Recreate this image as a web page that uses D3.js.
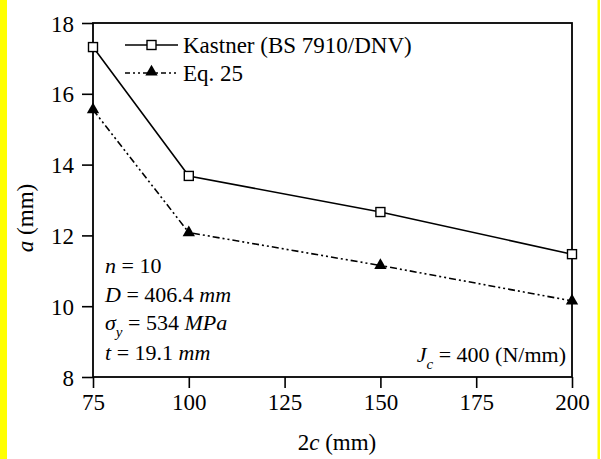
<!DOCTYPE html>
<html>
<head>
<meta charset="utf-8">
<script src="https://cdn.jsdelivr.net/npm/d3@7"></script>
<style>
  svg text, svg tspan { font-family: "Liberation Serif", "Times New Roman", Times, serif !important; }
</style>
</head>
<body style="margin:0">
<svg id="chart" width="601" height="459"></svg>
<script>
const xValues = [75, 100, 150, 200];
const kastner = [17.32, 13.68, 12.66, 11.47];
const eq25 = [15.55, 12.08, 11.15, 10.15];
const xTicks = [75, 100, 125, 150, 175, 200];
const yTicks = [8, 10, 12, 14, 16, 18];
const seriesNames = ["Kastner (BS 7910/DNV)", "Eq. 25"];

(function () {
const FONT = "Liberation Serif";
const svg = d3.select("#chart");
const W = 601, H = 459;
const mLeft = 93, mRight = 572, mTop = 23, mBottom = 377;

svg.append("rect").attr("x", 0).attr("y", 0).attr("width", W).attr("height", H).attr("fill", "#fff");
svg.append("rect").attr("x", 0).attr("y", 0).attr("width", 7).attr("height", H).attr("fill", "#ffff00");
svg.append("rect").attr("x", 597.5).attr("y", 0).attr("width", 2.5).attr("height", H).attr("fill", "#ffff00");

const x = d3.scaleLinear().domain([75, 200]).range([mLeft, mRight]);
const y = d3.scaleLinear().domain([8, 18]).range([mBottom, mTop]);

const xAxis = d3.axisBottom(x).tickValues(xTicks).tickSize(11).tickPadding(6).tickFormat(d3.format("d"));
const gx = svg.append("g").attr("transform", `translate(0,${mBottom})`).call(xAxis);
gx.attr("font-family", FONT).attr("font-size", 23);
gx.select(".domain").remove();
gx.selectAll(".tick line").attr("stroke", "#000").attr("stroke-width", 1.6);
gx.selectAll(".tick text").attr("fill", "#000").attr("dy", "0.71em").style("font-family", FONT);

const yAxis = d3.axisLeft(y).tickValues(yTicks).tickSize(11).tickPadding(8).tickFormat(d3.format("d"));
const gy = svg.append("g").attr("transform", `translate(${mLeft},0)`).call(yAxis);
gy.attr("font-family", FONT).attr("font-size", 23);
gy.select(".domain").remove();
gy.selectAll(".tick line").attr("stroke", "#000").attr("stroke-width", 1.6);
gy.selectAll(".tick text").attr("fill", "#000").attr("dy", "0.35em").style("font-family", FONT);

svg.append("rect").attr("x", mLeft).attr("y", mTop).attr("width", mRight - mLeft).attr("height", mBottom - mTop)
  .attr("fill", "none").attr("stroke", "#000").attr("stroke-width", 1.8);

const line = d3.line().x((d, i) => x(xValues[i])).y(d => y(d));
svg.append("path").datum(kastner).attr("d", line).attr("fill", "none").attr("stroke", "#000").attr("stroke-width", 1.6);
svg.append("path").datum(eq25).attr("d", line).attr("fill", "none").attr("stroke", "#000").attr("stroke-width", 1.6)
  .attr("stroke-dasharray", "7,3,2,3,2,3");

const sq = 9;
function square(g, cx, cy) {
  g.append("rect").attr("x", cx - sq / 2).attr("y", cy - sq / 2).attr("width", sq).attr("height", sq)
    .attr("fill", "#fff").attr("stroke", "#000").attr("stroke-width", 1.4);
}
const tri = d3.symbol().type(d3.symbolTriangle).size(66);
function triangle(g, cx, cy) {
  g.append("path").attr("d", tri()).attr("transform", `translate(${cx},${cy})`).attr("fill", "#000");
}
const mk = svg.append("g");
kastner.forEach((v, i) => square(mk, x(xValues[i]), y(v)));
eq25.forEach((v, i) => triangle(mk, x(xValues[i]), y(v)));

function txt(xp, yp, size) {
  return svg.append("text").attr("x", xp).attr("y", yp).style("font-family", FONT).attr("font-size", size).attr("fill", "#000");
}

const lg = svg.append("g");
lg.append("line").attr("x1", 125).attr("x2", 178).attr("y1", 45).attr("y2", 45).attr("stroke", "#000").attr("stroke-width", 1.6);
square(lg, 151.5, 45);
txt(183, 45, 23).attr("dy", "0.35em").text(seriesNames[0]);
lg.append("line").attr("x1", 125).attr("x2", 178).attr("y1", 73).attr("y2", 73).attr("stroke", "#000").attr("stroke-width", 1.6)
  .attr("stroke-dasharray", "5,3,2,3,2,3");
triangle(lg, 151.5, 72);
txt(183, 73, 23).attr("dy", "0.35em").text(seriesNames[1]);

const fs = 22;
const t1 = txt(105, 273, fs);
t1.append("tspan").attr("font-style", "italic").text("n");
t1.append("tspan").text(" = 10");
const t2 = txt(105, 302, fs);
t2.append("tspan").attr("font-style", "italic").text("D");
t2.append("tspan").text(" = 406.4 ");
t2.append("tspan").attr("font-style", "italic").text("mm");
const t3 = txt(105, 330, fs);
t3.append("tspan").attr("font-style", "italic").text("σ");
t3.append("tspan").attr("font-style", "italic").attr("font-size", 15).attr("dy", 7).text("y");
t3.append("tspan").attr("dy", -7).text(" = 534 ");
t3.append("tspan").attr("font-style", "italic").text("MPa");
const t4 = txt(105, 360, fs);
t4.append("tspan").attr("font-style", "italic").text("t");
t4.append("tspan").text(" = 19.1 ");
t4.append("tspan").attr("font-style", "italic").text("mm");

const t5 = txt(566, 362, fs).attr("text-anchor", "end");
t5.append("tspan").attr("font-style", "italic").text("J");
t5.append("tspan").attr("font-style", "italic").attr("font-size", 15).attr("dy", 7).text("c");
t5.append("tspan").attr("dy", -7).text(" = 400 (N/mm)");

const xl = txt(337, 450, 23).attr("text-anchor", "middle");
xl.append("tspan").text("2");
xl.append("tspan").attr("font-style", "italic").text("c");
xl.append("tspan").text(" (mm)");

const yl = txt(0, 0, 23).attr("transform", "translate(33,218) rotate(-90)").attr("text-anchor", "middle");
yl.append("tspan").attr("font-style", "italic").text("a");
yl.append("tspan").text(" (mm)");
})();
</script>
</body>
</html>
